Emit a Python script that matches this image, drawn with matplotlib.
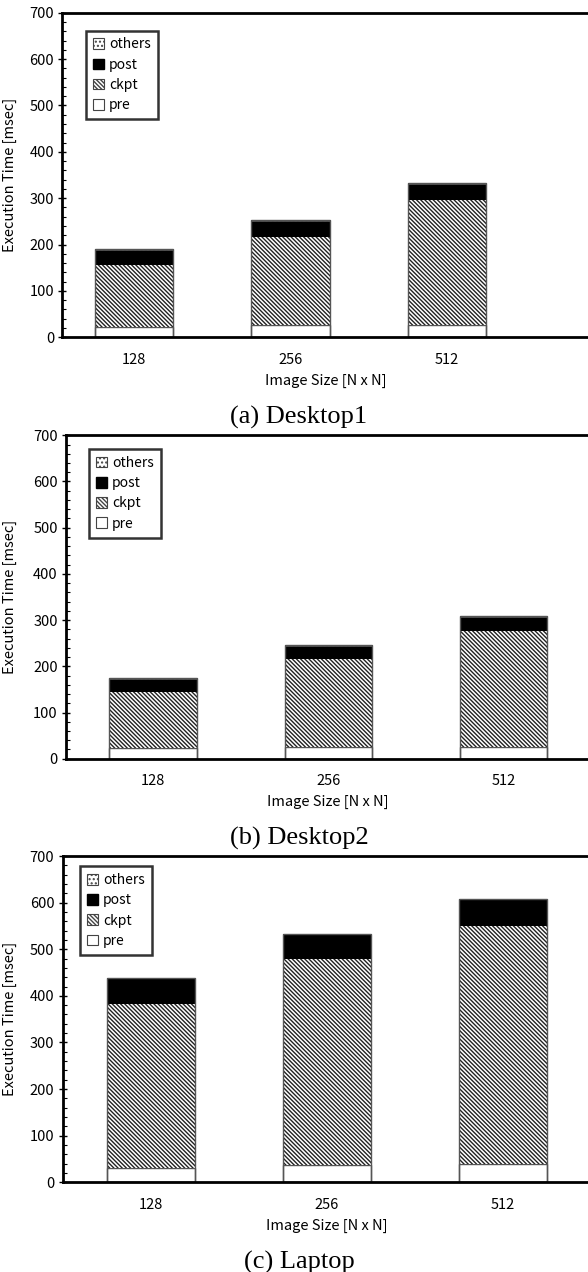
import matplotlib.pyplot as plt
import matplotlib.patches as mpatches

plt.rcParams['font.family'] = ['Noto Sans CJK JP', 'DejaVu Sans']
plt.rcParams['hatch.linewidth'] = 1.0

sizes = ['128', '256', '512']
captions = ['(a) Desktop1', '(b) Desktop2', '(c) Laptop']

# execution time breakdown [msec]
pre_d1 = [23, 26, 27]
ckpt_d1 = [132, 190, 270]
post_d1 = [34, 35, 34]
others_d1 = [1, 1, 1]

pre_d2 = [24, 24.5, 26]
ckpt_d2 = [120, 190.5, 251]
post_d2 = [29, 30, 30]
others_d2 = [1, 1, 1]

pre_lt = [30, 36.5, 38.5]
ckpt_lt = [352.5, 441.5, 511.5]
post_lt = [55.5, 54, 57]
others_lt = [1, 1, 1]

data = [
    (pre_d1, ckpt_d1, post_d1, others_d1),
    (pre_d2, ckpt_d2, post_d2, others_d2),
    (pre_lt, ckpt_lt, post_lt, others_lt),
]

# panel geometry in pixels: left, top, bottom, xlim, legend anchor
W, H = 588, 1272
panels = [
    (62.5, 12.7, 337.3, (-0.457, 2.914), (0.0445, 0.945)),
    (66.0, 435.3, 758.7, (-0.498, 2.493), (0.044, 0.958)),
    (62.7, 856.0, 1182.3, (-0.5, 2.497), (0.033, 0.969)),
]

ckpt_hatch = '\\' * 8

fig = plt.figure(figsize=(W / 100, H / 100), dpi=100)

for (pre, ckpt, post, others), (l, t, b, xl, leg), cap in zip(data, panels, captions):
    ax = fig.add_axes([l / W, 1 - b / H, (590 - l) / W, (b - t) / H])
    x = list(range(len(sizes)))
    bot2 = [p + c for p, c in zip(pre, ckpt)]
    bot3 = [p + c + q for p, c, q in zip(pre, ckpt, post)]
    ax.bar(x, pre, 0.5, color='white', edgecolor='#555555', linewidth=1)
    ax.bar(x, ckpt, 0.5, bottom=pre, color='white', edgecolor='#222222',
           hatch=ckpt_hatch, linewidth=0)
    ax.bar(x, post, 0.5, bottom=bot2, color='black', edgecolor='black', linewidth=0)
    ax.bar(x, others, 0.5, bottom=bot3, color='white', edgecolor='#444444',
           hatch='....', linewidth=0.6)
    # outline of each whole stack
    for xi, h in zip(x, [a + o for a, o in zip(bot3, others)]):
        ax.add_patch(mpatches.Rectangle((xi - 0.25, 0), 0.5, h, fill=False,
                                        edgecolor='#555555', linewidth=1))

    ax.set_xlim(*xl)
    ax.set_ylim(0, 700)
    ax.set_yticks(range(0, 701, 100))
    ax.set_yticks(range(0, 701, 20), minor=True)
    ax.set_xticks(x)
    ax.set_xticklabels(sizes, fontsize=10.5)
    ax.tick_params(axis='x', length=0, pad=11)
    ax.tick_params(axis='y', which='major', direction='inout', length=6,
                   width=1, labelsize=10.5, pad=3)
    ax.tick_params(axis='y', which='minor', direction='in', length=3, width=0.8)
    for s in ['left', 'bottom', 'top']:
        ax.spines[s].set_linewidth(2)
    ax.spines['right'].set_visible(False)

    ax.set_xlabel('Image Size [N x N]', fontsize=10.5, labelpad=5)
    ax.set_ylabel('Execution Time [msec]', fontsize=10.5)
    ax.yaxis.set_label_coords((17 - l) / (590 - l), 0.5)

    handles = [
        mpatches.Patch(facecolor='white', edgecolor='#444444', hatch='....',
                       linewidth=0.8, label='others'),
        mpatches.Patch(facecolor='black', edgecolor='black', label='post'),
        mpatches.Patch(facecolor='white', edgecolor='#444444', hatch=ckpt_hatch,
                       linewidth=0.8, label='ckpt'),
        mpatches.Patch(facecolor='white', edgecolor='#444444', linewidth=0.8,
                       label='pre'),
    ]
    lg = ax.legend(handles=handles, loc='upper left', bbox_to_anchor=leg,
                   borderaxespad=0, fontsize=10, frameon=True, fancybox=False,
                   handlelength=0.8, handleheight=0.8, handletextpad=0.35,
                   labelspacing=0.45, borderpad=0.5)
    lg.get_frame().set_edgecolor('black')
    lg.get_frame().set_linewidth(1.8)

    fig.text(299 / W, 1 - (b + 80) / H, cap, ha='center', va='center',
             fontsize=19, family='Liberation Serif')

fig.savefig('out.png', dpi=100)
